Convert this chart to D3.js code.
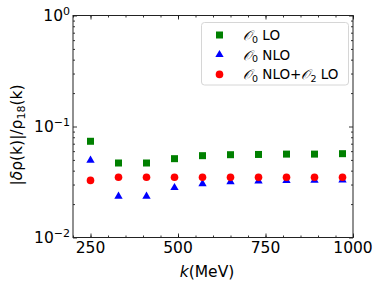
<!DOCTYPE html>
<html>
<head>
<meta charset="utf-8">
<script src="https://cdn.jsdelivr.net/npm/d3@7"></script>
<style>
  body { margin: 0; background: #fff; }
  text { font-family: "DejaVu Sans", sans-serif; fill: #000; }
</style>
</head>
<body>
<div id="chart"></div>
<script>
// values
var kValues = [250, 330, 410, 490, 570, 650, 730, 810, 890, 970];
var o0LO = [0.0736, 0.0469, 0.0469, 0.0513, 0.0546, 0.0557, 0.0560, 0.0564, 0.0564, 0.0569];
var o0NLO = [0.0496, 0.0235, 0.0235, 0.0281, 0.0305, 0.0318, 0.0322, 0.0325, 0.0327, 0.0329];
var o0NLOo2LO = [0.0327, 0.0349, 0.0349, 0.0349, 0.0349, 0.0349, 0.0349, 0.0349, 0.0349, 0.0349];
var xTicks = [250, 500, 750, 1000];
var yTicks = [1, 0.1, 0.01];
var yTickExp = ["0", "\u22121", "\u22122"];

var W = 384, H = 288;
var margin = {top: 15.5, right: 31, bottom: 50.5, left: 73};
var width = W - margin.left - margin.right,
    height = H - margin.top - margin.bottom;

var svg = d3.select("#chart").append("svg")
    .attr("width", W).attr("height", H);
var g = svg.append("g")
    .attr("transform", "translate(" + margin.left + "," + margin.top + ")");

var x = d3.scaleLinear().domain([200, 1000]).range([0, width]);
var y = d3.scaleLog().domain([0.01, 1]).range([height, 0]);

var minorX = d3.range(200, 1001, 50);
var minorY = [];
[0.01, 0.1].forEach(function(d){
  for (var i = 2; i <= 9; i++) minorY.push(d * i);
});

// inward ticks on all four sides
function ticks(axis, vals, size){
  return axis.tickValues(vals).tickSize(-size).tickFormat("");
}
g.append("g").attr("class", "ax").attr("transform", "translate(0," + height + ")")
  .call(ticks(d3.axisBottom(x), minorX, 2));
g.append("g").attr("class", "ax").attr("transform", "translate(0," + height + ")")
  .call(ticks(d3.axisBottom(x), xTicks, 4));
g.append("g").attr("class", "ax")
  .call(ticks(d3.axisTop(x), minorX, 2));
g.append("g").attr("class", "ax")
  .call(ticks(d3.axisTop(x), xTicks, 4));
g.append("g").attr("class", "ax")
  .call(ticks(d3.axisLeft(y), minorY, 2));
g.append("g").attr("class", "ax")
  .call(ticks(d3.axisLeft(y), yTicks, 4));
g.append("g").attr("class", "ax").attr("transform", "translate(" + width + ",0)")
  .call(ticks(d3.axisRight(y), minorY, 2));
g.append("g").attr("class", "ax").attr("transform", "translate(" + width + ",0)")
  .call(ticks(d3.axisRight(y), yTicks, 4));
g.selectAll(".ax .domain").remove();
g.selectAll(".ax line").attr("stroke", "#000").attr("stroke-width", 0.8);

// frame
g.append("rect")
  .attr("width", width).attr("height", height)
  .attr("fill", "none").attr("stroke", "#222").attr("stroke-width", 1);

// tick labels
g.selectAll(".xlab").data(xTicks).enter().append("text")
  .attr("x", function(d){ return x(d); })
  .attr("y", height + 15.5)
  .attr("text-anchor", "middle")
  .attr("font-size", "15.5px")
  .text(function(d){ return d; });

var yl = g.selectAll(".ylab").data(yTicks).enter().append("text")
  .attr("x", -3)
  .attr("y", function(d){ return y(d) + 5.5; })
  .attr("text-anchor", "end")
  .attr("font-size", "15.5px");
yl.append("tspan").text("10");
yl.append("tspan").attr("dy", -6).attr("font-size", "11px")
  .text(function(d, i){ return yTickExp[i]; });

// axis titles
var xt = svg.append("text")
  .attr("x", margin.left + width / 2 - 6)
  .attr("y", 277)
  .attr("text-anchor", "middle")
  .attr("font-size", "15.5px");
xt.append("tspan").attr("font-style", "italic").text("k");
xt.append("tspan").text("(MeV)");

var yt = svg.append("text")
  .attr("transform", "translate(22,135)rotate(-90)")
  .attr("text-anchor", "middle")
  .attr("font-size", "15.5px");
yt.append("tspan").text("|");
yt.append("tspan").attr("font-style", "italic").text("\u03b4");
yt.append("tspan").text("\u03c1(k)|/\u03c1");
yt.append("tspan").attr("dy", 3).attr("font-size", "11px").text("18");
yt.append("tspan").attr("dy", -3).text("(k)");

// markers
var ms = 7;
g.selectAll(".lo").data(kValues).enter().append("rect")
  .attr("x", function(d){ return x(d) - ms / 2; })
  .attr("y", function(d, i){ return y(o0LO[i]) - ms / 2; })
  .attr("width", ms).attr("height", ms)
  .attr("fill", "green");

var tri = d3.symbol().type(d3.symbolTriangle).size(30);
g.selectAll(".nlo").data(kValues).enter().append("path")
  .attr("d", tri)
  .attr("transform", function(d, i){ return "translate(" + x(d) + "," + y(o0NLO[i]) + ")"; })
  .attr("fill", "blue");

g.selectAll(".nlo2").data(kValues).enter().append("circle")
  .attr("cx", function(d){ return x(d); })
  .attr("cy", function(d, i){ return y(o0NLOo2LO[i]); })
  .attr("r", 3.8)
  .attr("fill", "red");

// legend
var lx = 201.5 - margin.left, ly = 22.5 - margin.top;
var leg = g.append("g");
leg.append("rect")
  .attr("x", lx).attr("y", ly)
  .attr("width", 147).attr("height", 62.5)
  .attr("rx", 3)
  .attr("fill", "#fff").attr("fill-opacity", 0.8)
  .attr("stroke", "#d6d6d6").attr("stroke-width", 1);

var rows = [
  {sub: "0", rest: " LO", extra: null, color: "green", shape: "sq"},
  {sub: "0", rest: " NLO", extra: null, color: "blue", shape: "tri"},
  {sub: "0", rest: " NLO+", extra: "2", color: "red", shape: "c"}
];
var mx = 219.5 - margin.left, tx = 243 - margin.left;
rows.forEach(function(r, i){
  var cy = 35 - margin.top + i * 19.7;
  if (r.shape == "sq") {
    leg.append("rect").attr("x", mx - 3.5).attr("y", cy - 3.5)
      .attr("width", 7).attr("height", 7).attr("fill", r.color);
  } else if (r.shape == "tri") {
    leg.append("path").attr("d", tri)
      .attr("transform", "translate(" + mx + "," + cy + ")").attr("fill", r.color);
  } else {
    leg.append("circle").attr("cx", mx).attr("cy", cy).attr("r", 3.8).attr("fill", r.color);
  }
  var t = leg.append("text").attr("x", tx).attr("y", cy + 5).attr("font-size", "13.5px");
  t.append("tspan").attr("font-family", "DejaVu Serif").attr("font-style", "italic").text("\ud835\udcaa");
  t.append("tspan").attr("dy", 2.5).attr("font-size", "9.5px").text(r.sub);
  t.append("tspan").attr("dy", -2.5).text(r.rest);
  if (r.extra) {
    t.append("tspan").attr("font-family", "DejaVu Serif").attr("font-style", "italic").text("\ud835\udcaa");
    t.append("tspan").attr("dy", 2.5).attr("font-size", "9.5px").text(r.extra);
    t.append("tspan").attr("dy", -2.5).text(" LO");
  }
});
</script>
</body>
</html>
